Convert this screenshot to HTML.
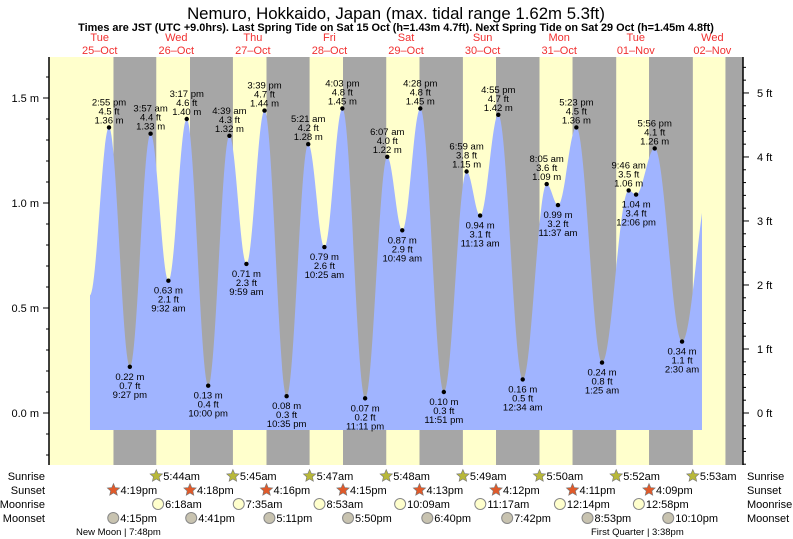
<!DOCTYPE html>
<html><head><meta charset="utf-8"><style>
body{margin:0;background:#fff;}
svg{display:block;font-family:"Liberation Sans",sans-serif;}
</style></head><body>
<svg id="c" width="793" height="539" xmlns="http://www.w3.org/2000/svg">
<text x="396" y="19" text-anchor="middle" font-size="16.8">Nemuro, Hokkaido, Japan (max. tidal range 1.62m 5.3ft)</text>
<text x="396" y="31" text-anchor="middle" font-size="10.9" font-weight="bold">Times are JST (UTC +9.0hrs). Last Spring Tide on Sat 15 Oct (h=1.43m 4.7ft). Next Spring Tide on Sat 29 Oct (h=1.45m 4.8ft)</text>
<g id="bands"></g><g id="tide"></g><g id="axes"></g><g id="labels"></g><g id="astro"></g>
</svg>
<script>
const days=["Tue","Wed","Thu","Fri","Sat","Sun","Mon","Tue","Wed"];
const dates=["25\u2013Oct","26\u2013Oct","27\u2013Oct","28\u2013Oct","29\u2013Oct","30\u2013Oct","31\u2013Oct","01\u2013Nov","02\u2013Nov"];
// tide events: hours from 25-Oct 00:00
const tideHours=[8.9,14.92,21.45,27.95,33.53,39.28,46.0,52.65,57.98,63.65,70.58,77.35,82.42,88.05,95.18,102.12,106.82,112.47,119.85,126.98,131.22,136.92,144.57,152.08,155.62,161.38,169.42,177.77,180.1,185.93,194.5,203.5];
const tideHeights=[0.56,1.36,0.22,1.33,0.63,1.40,0.13,1.32,0.71,1.44,0.08,1.28,0.79,1.45,0.07,1.22,0.87,1.45,0.10,1.15,0.94,1.42,0.16,1.09,0.99,1.36,0.24,1.06,1.04,1.26,0.34,1.12];
const tideTimes=["","2:55 pm","9:27 pm","3:57 am","9:32 am","3:17 pm","10:00 pm","4:39 am","9:59 am","3:39 pm","10:35 pm","5:21 am","10:25 am","4:03 pm","11:11 pm","6:07 am","10:49 am","4:28 pm","11:51 pm","6:59 am","11:13 am","4:55 pm","12:34 am","8:05 am","11:37 am","5:23 pm","1:25 am","9:46 am","12:06 pm","5:56 pm","2:30 am",""];
const tideFt=["","4.5","0.7","4.4","2.1","4.6","0.4","4.3","2.3","4.7","0.3","4.2","2.6","4.8","0.2","4.0","2.9","4.8","0.3","3.8","3.1","4.7","0.5","3.6","3.2","4.5","0.8","3.5","3.4","4.1","1.1",""];
const sunriseH=[29.73,53.75,77.78,101.8,125.82,149.83,173.87,197.88];
const sunriseL=["5:44am","5:45am","5:47am","5:48am","5:49am","5:50am","5:52am","5:53am"];
const sunsetH=[16.32,40.3,64.27,88.25,112.22,136.2,160.18,184.15,208.1];
const sunsetL=["4:19pm","4:18pm","4:16pm","4:15pm","4:13pm","4:12pm","4:11pm","4:09pm",""];
const moonriseH=[30.3,55.58,80.88,106.15,131.28,156.23,180.97];
const moonriseL=["6:18am","7:35am","8:53am","10:09am","11:17am","12:14pm","12:58pm"];
const moonsetH=[16.25,40.68,65.18,89.83,114.67,139.7,164.88,190.17];
const moonsetL=["4:15pm","4:41pm","5:11pm","5:50pm","6:40pm","7:42pm","8:53pm","10:10pm"];
const tStart=8.96,tEnd=200.75;
const X=t=>61.4+t*3.191, Y=m=>413-m*210;
const L=49,R=743,T=57,B=465;
const NS="http://www.w3.org/2000/svg";
function mk(tag,attrs,parent,txt){const e=document.createElementNS(NS,tag);for(const k in attrs)e.setAttribute(k,attrs[k]);if(txt!==undefined)e.textContent=txt;parent.appendChild(e);return e;}
const svg=document.getElementById('c');
days.forEach((d,i)=>{const x=X(i*24+12);
 const a=mk('text',{x:x,y:41,'text-anchor':'middle','font-size':'11',fill:'#f03030'},svg,d);
 
 
 const b=mk('text',{x:x,y:54,'text-anchor':'middle','font-size':'11',fill:'#f03030'},svg,dates[i]);
 
 });
const bands=document.getElementById('bands');
const bg=mk('rect',{x:L,y:T,width:R-L,height:B-T,fill:'#ffffcc'},bands);


for(let i=0;i<sunsetH.length;i++){const x1=X(sunsetH[i]);const x2=i<sunriseH.length?X(sunriseH[i]):R;
 const r=mk('rect',{x:x1,y:T,width:Math.min(x2,R)-x1,height:B-T,fill:'#a6a6a6'},bands);
 
 }
function h(t){for(let i=0;i<tideHours.length-1;i++){if(t>=tideHours[i]&&t<=tideHours[i+1]){const f=(t-tideHours[i])/(tideHours[i+1]-tideHours[i]);return tideHeights[i]+(tideHeights[i+1]-tideHeights[i])*(1-Math.cos(Math.PI*f))/2;}}return tideHeights[0];}
let d=`M${X(tStart)},430`;
for(let t=tStart;t<=tEnd;t+=0.25)d+=` L${X(t).toFixed(1)},${Y(h(t)).toFixed(1)}`;
d+=` L${X(tEnd)},${Y(h(tEnd))} L${X(tEnd)},430 Z`;
const p=mk('path',{d:d,fill:'#a0b4ff'},document.getElementById('tide'));


const ax=document.getElementById('axes');
mk('line',{x1:L,y1:T,x2:L,y2:B,stroke:'#000','stroke-width':1.5},ax);
mk('line',{x1:R,y1:T,x2:R,y2:B,stroke:'#000','stroke-width':1.5},ax);
for(let k=-2;k<=17;k++){const y=Y(k/10);if(y<T||y>B)continue;const maj=k%5==0;
 mk('line',{x1:L-(maj?6:3),y1:y,x2:L,y2:y,stroke:'#000'},ax);
 if(maj){const t=mk('text',{x:L-10,y:y+4,'text-anchor':'end','font-size':'11'},ax,(k/10).toFixed(1)+' m');
 
 }}
for(let k=-5;k<=27;k++){const y=Y(k*0.2*0.3048);if(y<T||y>B)continue;const maj=k%5==0;
 mk('line',{x1:R,y1:y,x2:R+(maj?6:3),y2:y,stroke:'#000'},ax);
 if(maj){const t=mk('text',{x:R+14,y:y+4,'font-size':'11'},ax,(k/5)+' ft');
 
 }}
const lg=document.getElementById('labels');
tideHours.forEach((t,i)=>{if(!tideTimes[i])return;const x=X(t),y=Y(tideHeights[i]);
 const hi=(i>0&&tideHeights[i]>tideHeights[i-1]);
 const dot=mk('circle',{cx:x,cy:y,r:2.2,fill:'#000'},lg);
 
 
 const lines=hi?[tideTimes[i],tideFt[i]+' ft',tideHeights[i].toFixed(2)+' m']:[tideHeights[i].toFixed(2)+' m',tideFt[i]+' ft',tideTimes[i]];
 const y0=hi?y-22:y+13;
 lines.forEach((s,j)=>{const e=mk('text',{x:x,y:y0+j*9,'text-anchor':'middle','font-size':'9.5'},lg,s);
 
 });});
const as=document.getElementById('astro');
const rows=[["Sunrise",476],["Sunset",490],["Moonrise",504],["Moonset",518]];
rows.forEach(r=>{const a=mk('text',{x:45,y:r[1]+4,'text-anchor':'end','font-size':'11'},as,r[0]);
 
 
 const b=mk('text',{x:747,y:r[1]+4,'font-size':'11'},as,r[0]);
 
 });
function star(cx,cy,fill){let s='';for(let k=0;k<10;k++){const a=-Math.PI/2+k*Math.PI/5,r=k%2?3:6.5;s+=(cx+r*Math.cos(a)).toFixed(1)+','+(cy+r*Math.sin(a)).toFixed(1)+' ';}return mk('polygon',{points:s,fill:fill,stroke:'#777','stroke-width':0.6},as);}
function ev(hs,ls,y,kind){hs.forEach((t,i)=>{if(!ls[i])return;const x=X(t);let ic;
 if(kind=='rise')ic=star(x,y,'#b8b83a');else if(kind=='set')ic=star(x,y,'#e05a2a');
 else ic=mk('circle',{cx:x,cy:y,r:5.5,fill:kind=='mr'?'#ffffcc':'#c8c3b0',stroke:'#888'},as);
 
 
 const e=mk('text',{x:x+7,y:y+4,'font-size':'11'},as,ls[i]);
 
 });}
ev(sunriseH,sunriseL,476,'rise');ev(sunsetH,sunsetL,490,'set');ev(moonriseH,moonriseL,504,'mr');ev(moonsetH,moonsetL,518,'ms');
const n1=mk('text',{x:76,y:535,'font-size':'9.5'},as,'New Moon | 7:48pm');


const n2=mk('text',{x:591,y:535,'font-size':'9.5'},as,'First Quarter | 3:38pm');


</script>
</body></html>
